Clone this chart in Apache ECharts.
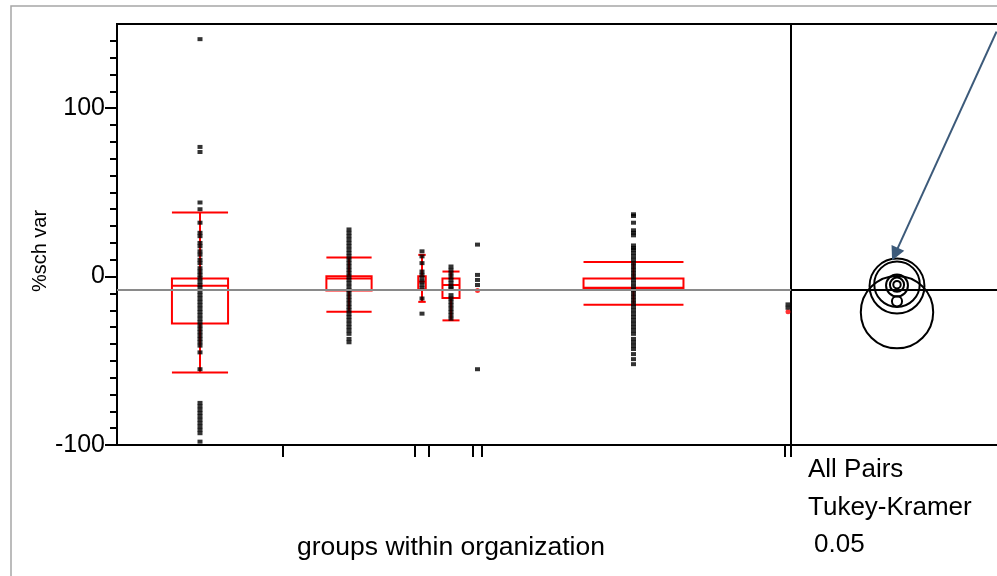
<!DOCTYPE html>
<html>
<head>
<meta charset="utf-8">
<script src="https://cdn.jsdelivr.net/npm/echarts@6/dist/echarts.min.js"></script>
<style>
  html, body { margin: 0; padding: 0; background: #fff; }
  #chart { width: 997px; height: 576px; }
</style>
</head>
<body>
<div id="chart"></div>
<script>
// relative group widths (JMP draws x proportional to group size)
const GROUP_WIDTHS = [166, 132, 14, 44, 9, 303, 6]

// %sch var values per group
const G1_VALUES = [141, 77, 74, 44, 40, 32, 26, 24, 20, 18, 15, 13, 10, 8, 5, 3, 1, -1, -3, -5, -7, -9, -11, -13, -15,
  -17, -19, -21, -23, -25, -27, -29, -31, -33, -35, -37, -39, -41, -45, -55, -75, -77, -79, -81, -83, -85, -87, -89,
  -91, -93, -98]
const G2_VALUES = [28, 26, 24, 22, 20, 18, 16, 14, 12, 10, 8, 6, 4, 2, 0, -2, -4, -6, -8, -10, -12, -14, -16, -18,
  -20, -22, -24, -26, -28, -30, -32, -34, -37, -39]
const G3_VALUES = [15, 12, 8, 3, 1, -1, -3, -5, -7, -13, -22]
const G4_VALUES = [6, 4, 2, 0, -2, -4, -6, -7, -11, -13, -15, -17, -19, -21, -23, -25]
const G5_VALUES = [19, 1, -2, -5, -55]
const G6_VALUES = [37, 36, 32, 27.5, 26, 24.5, 18.5, 17, 16, 14, 12, 10, 8, 6, 4, 2, 0, -2, -4, -6, -8, -10, -12, -14,
  -16, -18, -20, -22, -24, -26, -28, -30, -32, -34, -37, -39, -41, -43, -46, -49, -52]
const G7_VALUES = [-16.5, -18.5]
const GROUP_VALUES = [G1_VALUES, G2_VALUES, G3_VALUES, G4_VALUES, G5_VALUES, G6_VALUES, G7_VALUES]

// box plot stats (null = no box drawn)
const BOX_Q1 = [-27.9, -8.3, -7.7, -12.7, null, -7.1, null]
const BOX_MEDIAN = [-5.5, -1.2, -3, -5, null, -6.6, null]
const BOX_Q3 = [-1.2, 0.2, 0.2, -1.2, null, -1.2, null]
const WHISKER_LOW = [-57, -20.8, -15, -26, null, -16.7, null]
const WHISKER_HIGH = [38, 11.3, 12.9, 3, null, 8.7, null]
const GROUP_MEAN = [null, null, null, null, -8.2, null, -20.8]
const GRAND_MEAN = -8.1

// comparison circles (Tukey-Kramer, 0.05)
const CIRCLE_CENTERS = [-21.1, -5.6, -4.5, -5.3, -4.8, -4.8, -14.7]
const CIRCLE_RADII = [21.5, 16.3, 13.5, 6.5, 4.2, 2.2, 3]

const Y_MAJOR_TICKS = [-100, 0, 100]
const Y_MINOR_TICKS = [-90, -80, -70, -60, -50, -40, -30, -20, -10, 10, 20, 30, 40, 50, 60, 70, 80, 90,
  110, 120, 130, 140]

const FONT = "'Liberation Sans', Arial, sans-serif"
const RED = '#ff0000'
const CIRCLE_X = 106
const ARROW_FROM = [205.5, 145.5]
const ARROW_TO = [104, 13.3]

const boundaries = [0]
GROUP_WIDTHS.forEach((w) => boundaries.push(boundaries[boundaries.length - 1] + w))
const totalWidth = boundaries[boundaries.length - 1]
const centers = GROUP_WIDTHS.map((w, i) => boundaries[i] + w / 2)

const pointData = []
GROUP_VALUES.forEach((vals, i) => {
  vals.forEach((v) => pointData.push([centers[i], v]))
})

const boxData = []
BOX_Q1.forEach((q1, i) => {
  if (q1 === null) return
  boxData.push([centers[i], GROUP_WIDTHS[i], q1, BOX_MEDIAN[i], BOX_Q3[i], WHISKER_LOW[i], WHISKER_HIGH[i]])
})

const meanData = []
GROUP_MEAN.forEach((m, i) => {
  if (m !== null) meanData.push([centers[i], m])
})

const circleData = CIRCLE_CENTERS.map((c, i) => [CIRCLE_X, c, CIRCLE_RADII[i]])

function renderBox(params, api) {
  const x = api.value(0)
  const w = api.size([api.value(1), 0])[0]
  const half = (w * 0.32 + 3) / 2
  const top = api.coord([x, api.value(4)])
  const bottom = api.coord([x, api.value(2)])
  const med = api.coord([x, api.value(3)])
  const lo = api.coord([x, api.value(5)])
  const hi = api.coord([x, api.value(6)])
  const cx = top[0]
  const style = { stroke: RED, fill: 'none', lineWidth: 2 }
  const line = (x1, y1, x2, y2) => ({ type: 'line', shape: { x1, y1, x2, y2 }, style })
  return {
    type: 'group',
    children: [
      { type: 'rect', shape: { x: cx - half, y: top[1], width: half * 2, height: bottom[1] - top[1] }, style },
      line(cx - half, med[1], cx + half, med[1]),
      line(cx - half, hi[1], cx + half, hi[1]),
      line(cx - half, lo[1], cx + half, lo[1]),
      line(cx, hi[1], cx, top[1]),
      line(cx, bottom[1], cx, lo[1]),
    ],
  }
}

function renderCircle(params, api) {
  const c = api.coord([api.value(0), api.value(1)])
  const r = api.size([0, api.value(2)])[1]
  return {
    type: 'circle',
    shape: { cx: c[0], cy: c[1], r },
    style: { stroke: '#000', fill: 'none', lineWidth: 2 },
  }
}

const frameAxis = (gridIndex, position) => ({
  gridIndex,
  position,
  type: 'value',
  min: 0,
  max: 206,
  axisLine: { show: true, onZero: false, lineStyle: { color: '#000', width: 2 } },
  axisTick: { show: false },
  axisLabel: { show: false },
  splitLine: { show: false },
})

const chart = echarts.init(document.getElementById('chart'))
chart.setOption({
  animation: false,
  grid: [
    { left: 117, top: 24, width: totalWidth, height: 421, show: true, borderColor: '#000', borderWidth: 2 },
    { left: 117 + totalWidth, top: 24, right: 0, height: 421 },
  ],
  xAxis: [
    {
      gridIndex: 0,
      type: 'value',
      position: 'bottom',
      min: 0,
      max: totalWidth,
      axisLine: { onZero: false, lineStyle: { color: '#000', width: 2 } },
      axisTick: { customValues: boundaries.slice(1), length: 12, lineStyle: { color: '#000', width: 2 } },
      axisLabel: { show: false },
      splitLine: { show: false },
    },
    frameAxis(1, 'bottom'),
    frameAxis(1, 'top'),
  ],
  yAxis: [
    {
      gridIndex: 0,
      type: 'value',
      position: 'left',
      min: -100,
      max: 150,
      axisLine: { show: true, onZero: false, lineStyle: { color: '#000', width: 2 } },
      axisTick: { customValues: Y_MAJOR_TICKS, length: 12, lineStyle: { color: '#000', width: 2 } },
      axisLabel: { customValues: Y_MAJOR_TICKS, color: '#000', fontSize: 25, fontFamily: FONT, margin: 12 },
      splitLine: { show: false },
    },
    {
      gridIndex: 0,
      type: 'value',
      position: 'left',
      offset: 0,
      min: -100,
      max: 150,
      axisLine: { show: false, onZero: false },
      axisTick: { customValues: Y_MINOR_TICKS, length: 7, lineStyle: { color: '#000', width: 2 } },
      axisLabel: { show: false },
      splitLine: { show: false },
    },
    { gridIndex: 1, type: 'value', min: -100, max: 150, show: false },
  ],
  series: [
    {
      type: 'custom',
      xAxisIndex: 0,
      yAxisIndex: 0,
      renderItem: renderBox,
      data: boxData,
      z: 2,
      silent: true,
      markLine: {
        silent: true,
        symbol: 'none',
        label: { show: false },
        lineStyle: { color: '#8a8a8a', width: 2, type: 'solid' },
        data: [{ yAxis: GRAND_MEAN }],
      },
    },
    {
      type: 'scatter',
      xAxisIndex: 0,
      yAxisIndex: 0,
      symbol: 'circle',
      symbolSize: 5,
      itemStyle: { color: RED },
      data: meanData,
      z: 3,
      silent: true,
    },
    {
      type: 'scatter',
      xAxisIndex: 0,
      yAxisIndex: 0,
      symbol: 'rect',
      symbolSize: [5, 4],
      itemStyle: { color: '#000' },
      data: pointData,
      z: 4,
      silent: true,
    },
    {
      type: 'custom',
      xAxisIndex: 1,
      yAxisIndex: 2,
      renderItem: renderCircle,
      data: circleData,
      silent: true,
      markLine: {
        silent: true,
        symbol: 'none',
        label: { show: false },
        data: [
          {
            yAxis: GRAND_MEAN,
            lineStyle: { color: '#000', width: 2, type: 'solid' },
          },
          [
            {
              coord: ARROW_FROM,
              symbol: 'none',
              lineStyle: { color: '#3c5a7a', width: 2, type: 'solid' },
            },
            { coord: ARROW_TO, symbol: 'triangle', symbolSize: 14 },
          ],
        ],
      },
    },
  ],
  graphic: [
    {
      type: 'rect',
      shape: { x: 11, y: 6, width: 1000, height: 600 },
      style: { fill: 'none', stroke: '#a6a6a6', lineWidth: 1.5 },
      silent: true,
    },
    {
      type: 'text',
      x: 40,
      y: 251,
      rotation: Math.PI / 2,
      style: { text: '%sch var', font: `20px ${FONT}`, fill: '#000', textAlign: 'center', textVerticalAlign: 'middle' },
    },
    {
      type: 'text',
      x: 451,
      y: 548,
      style: { text: 'groups within organization', font: `26.5px ${FONT}`, fill: '#000', textAlign: 'center', textVerticalAlign: 'middle' },
    },
    {
      type: 'text',
      x: 808,
      y: 470,
      style: { text: 'All Pairs', font: `26px ${FONT}`, fill: '#000', textAlign: 'left', textVerticalAlign: 'middle' },
    },
    {
      type: 'text',
      x: 808,
      y: 508,
      style: { text: 'Tukey-Kramer', font: `26px ${FONT}`, fill: '#000', textAlign: 'left', textVerticalAlign: 'middle' },
    },
    {
      type: 'text',
      x: 814,
      y: 545,
      style: { text: '0.05', font: `26px ${FONT}`, fill: '#000', textAlign: 'left', textVerticalAlign: 'middle' },
    },
  ],
})
</script>
</body>
</html>
